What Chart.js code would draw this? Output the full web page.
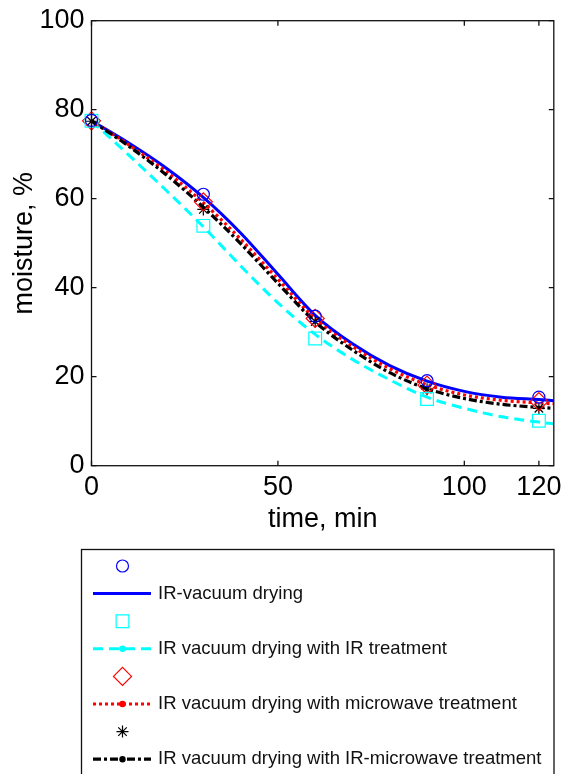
<!DOCTYPE html>
<html>
<head>
<meta charset="utf-8">
<script src="https://cdn.jsdelivr.net/npm/chart.js@4/dist/chart.umd.min.js"></script>
<style>
  html, body { margin: 0; padding: 0; background: #fff; }
  #grafico { display: block; }
</style>
</head>
<body>
<canvas id="grafico" width="564" height="774"></canvas>
<script>
const qS = (el)=>document.querySelector(el);

// pontos medidos (min, % de umidade)
const tempos = [0, 30, 60, 90, 120];
const medVacuo = [77.6, 61.0, 33.6, 19.1, 15.4];
const medIR = [77.5, 53.9, 28.6, 15.0, 10.1];
const medMicro = [77.5, 59.3, 33.1, 18.1, 14.4];
const medIRMicro = [77.4, 57.6, 32.4, 17.2, 12.9];

// curvas do modelo
const tempoCurva = [0, 10, 20, 30, 40, 50, 60, 70, 80, 90, 100, 110, 120, 124];
const curvaVacuo = [77.5, 72.5, 66.9, 60.3, 52.3, 43.0, 33.8, 27.4, 22.5, 19.0, 16.7, 15.4, 14.85, 14.6];
const curvaIR = [77.5, 69.8, 61.9, 53.7, 44.9, 36.6, 29.5, 23.9, 19.3, 15.4, 12.9, 11.0, 9.8, 9.4];
const curvaMicro = [77.5, 72.1, 66.1, 59.1, 50.9, 41.9, 33.0, 26.8, 21.8, 18.2, 15.9, 14.7, 14.1, 13.9];
const curvaIRMicro = [77.5, 71.8, 65.4, 58.1, 49.9, 41.0, 32.3, 26.0, 20.9, 17.3, 15.1, 13.8, 13.1, 12.9];

const nomes = [
  'IR-vacuum drying',
  'IR vacuum drying with IR treatment',
  'IR vacuum drying with microwave treatment',
  'IR vacuum drying with IR-microwave treatment'
];

const marcasX = [0, 50, 100, 120];
const marcasY = [0, 20, 40, 60, 80, 100];

const fonte = '"Liberation Sans", Arial, sans-serif';

function pares(xs, ys) {
  return xs.map((x, i) => ({x: x, y: ys[i]}));
}

function marcador(valores, cor, estilo, raio) {
  return {
    label: '',
    data: pares(tempos, valores),
    showLine: false,
    pointStyle: estilo,
    pointRadius: raio,
    pointBorderWidth: 1.2,
    pointBorderColor: cor,
    pointBackgroundColor: 'rgba(0,0,0,0)',
    clip: false,
    order: 0
  };
}

function curva(nome, valores, cor, largura, tracejado, ponto, ordem) {
  return {
    label: nome,
    data: pares(tempoCurva, valores),
    showLine: true,
    borderColor: cor,
    borderWidth: largura,
    borderDash: tracejado,
    cubicInterpolationMode: 'monotone',
    pointRadius: 0,
    ponto: ponto,
    order: ordem
  };
}

// caixa dos eixos com marcas para dentro
const moldura = {
  id: 'moldura',
  afterDatasetsDraw(chart) {
    let {left, right, top, bottom} = chart.chartArea;
    let ctx = chart.ctx;
    let sx = chart.scales.x, sy = chart.scales.y;
    ctx.save();
    ctx.strokeStyle = '#111';
    ctx.lineWidth = 1.3;
    ctx.strokeRect(left, top, right - left, bottom - top);
    ctx.beginPath();
    marcasX.forEach(v => {
      let px = sx.getPixelForValue(v);
      ctx.moveTo(px, bottom); ctx.lineTo(px, bottom - 5);
      ctx.moveTo(px, top); ctx.lineTo(px, top + 5);
    });
    marcasY.forEach(v => {
      let py = sy.getPixelForValue(v);
      ctx.moveTo(left, py); ctx.lineTo(left + 5, py);
      ctx.moveTo(right, py); ctx.lineTo(right - 5, py);
    });
    ctx.stroke();
    ctx.restore();
  }
};

// legenda em caixa abaixo do gráfico
const legenda = {
  id: 'legenda',
  afterDraw(chart) {
    let ctx = chart.ctx;
    ctx.save();
    ctx.strokeStyle = '#111';
    ctx.lineWidth = 1.3;
    ctx.strokeRect(81.5, 549.5, 472.5, 260);
    let y = 566;
    chart.data.datasets.forEach(ds => {
      if (ds.showLine === false) {
        ctx.strokeStyle = ds.pointBorderColor;
        ctx.fillStyle = 'rgba(0,0,0,0)';
        ctx.lineWidth = ds.pointBorderWidth;
        ctx.setLineDash([]);
        Chart.helpers.drawPoint(ctx, {
          pointStyle: ds.pointStyle,
          radius: ds.pointRadius,
          rotation: 0,
          borderWidth: ds.pointBorderWidth
        }, 122.5, y);
      } else {
        ctx.strokeStyle = ds.borderColor;
        ctx.lineWidth = ds.borderWidth;
        ctx.setLineDash(ds.borderDash || []);
        ctx.beginPath();
        ctx.moveTo(93, y);
        ctx.lineTo(151, y);
        ctx.stroke();
        ctx.setLineDash([]);
        if (ds.ponto) {
          ctx.fillStyle = ds.borderColor;
          ctx.beginPath();
          ctx.arc(122.5, y, 3.2, 0, Math.PI * 2);
          ctx.fill();
        }
        ctx.fillStyle = '#111';
        ctx.font = '18.5px ' + fonte;
        ctx.textBaseline = 'middle';
        ctx.textAlign = 'left';
        ctx.fillText(ds.label, 158, y);
      }
      y += 27.6;
    });
    ctx.restore();
  }
};

let ctx = qS('#grafico').getContext('2d');

new Chart(ctx, {
  type: 'scatter',
  data: {
    datasets: [
      marcador(medVacuo, '#0000ff', 'circle', 6),
      curva(nomes[0], curvaVacuo, '#0000ff', 3, [], false, 4),
      marcador(medIR, '#00ffff', 'rect', 9),
      curva(nomes[1], curvaIR, '#00ffff', 3, [10, 6], true, 3),
      marcador(medMicro, '#ff0000', 'rectRot', 9),
      curva(nomes[2], curvaMicro, '#ff0000', 3.2, [3, 3], true, 2),
      marcador(medIRMicro, '#000000', 'star', 6),
      curva(nomes[3], curvaIRMicro, '#000000', 3.2, [8, 3, 3, 3], true, 1)
    ]
  },
  options: {
    responsive: false,
    animation: false,
    events: [],
    layout: {
      padding: {left: 0, top: 20.7, right: 10, bottom: 238.3}
    },
    plugins: {
      legend: {display: false},
      tooltip: {enabled: false}
    },
    scales: {
      x: {
        type: 'linear',
        min: 0,
        max: 124,
        border: {display: false},
        grid: {display: false, drawTicks: false},
        afterBuildTicks: (s) => { s.ticks = marcasX.map(v => ({value: v})); },
        afterFit: (s) => { s.height = 70; s.paddingLeft = 0; s.paddingRight = 0; },
        ticks: {
          color: '#000',
          padding: 6,
          maxRotation: 0,
          autoSkip: false,
          font: {family: fonte, size: 27}
        },
        title: {
          display: true,
          text: 'time, min',
          color: '#000',
          padding: {top: 0, bottom: 0},
          font: {family: fonte, size: 27}
        }
      },
      y: {
        type: 'linear',
        min: 0,
        max: 100,
        border: {display: false},
        grid: {display: false, drawTicks: false},
        afterBuildTicks: (s) => { s.ticks = marcasY.map(v => ({value: v})); },
        afterFit: (s) => { s.width = 91.5; s.paddingTop = 0; s.paddingBottom = 0; },
        ticks: {
          color: '#000',
          padding: 7,
          autoSkip: false,
          font: {family: fonte, size: 27}
        },
        title: {
          display: true,
          text: 'moisture, %',
          color: '#000',
          padding: {top: 8, bottom: 0},
          font: {family: fonte, size: 27}
        }
      }
    }
  },
  plugins: [moldura, legenda]
});
</script>
</body>
</html>
